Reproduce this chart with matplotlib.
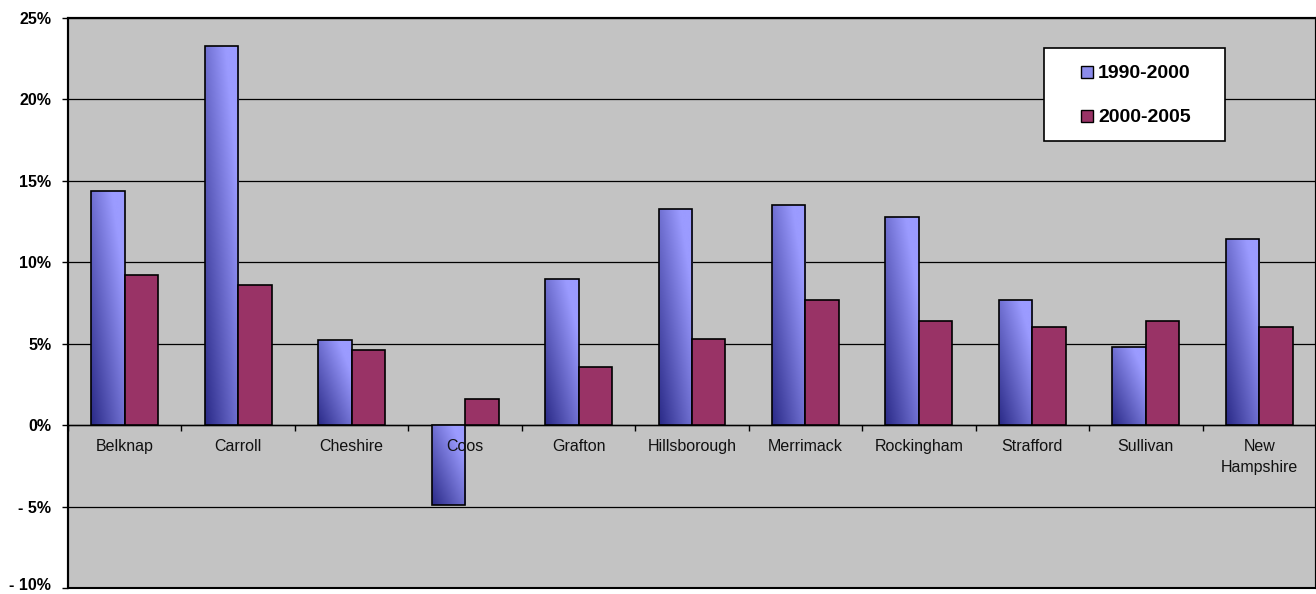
import numpy as np
import matplotlib
matplotlib.use("Agg")
import matplotlib.pyplot as plt
from matplotlib.patches import Rectangle
from matplotlib.transforms import offset_copy

# County population growth rates (%)
counties = ["Belknap", "Carroll", "Cheshire", "Coos", "Grafton", "Hillsborough",
            "Merrimack", "Rockingham", "Strafford", "Sullivan", "New\nHampshire"]
growth_1990_2000 = [14.4, 23.3, 5.2, -4.9, 9.0, 13.3, 13.5, 12.8, 7.7, 4.8, 11.4]
growth_2000_2005 = [9.2, 8.6, 4.6, 1.6, 3.6, 5.3, 7.7, 6.4, 6.0, 6.4, 6.0]
series_labels = ["1990-2000", "2000-2005"]
y_ticks = [-10, -5, 0, 5, 10, 15, 20, 25]
y_tick_labels = ["- 10%", "- 5%", "0%", "5%", "10%", "15%", "20%", "25%"]

plt.rcParams["font.family"] = ["Liberation Sans", "DejaVu Sans"]

W, H = 1316, 594
fig = plt.figure(figsize=(W / 100, H / 100), dpi=100)
ax = fig.add_axes([68 / W, 6 / H, 1 - 68 / W, (588 - 18) / H])
ax.set_facecolor("#C3C3C3")

n = len(counties)
x = np.arange(n)
bar_w = 0.295

ax.set_xlim(-0.5, n - 0.5)
ax.set_ylim(-10, 25)

# Horizontal gridlines
for yv in y_ticks:
    ax.axhline(yv, color="black", lw=0.9, zorder=1)

# Gradient fill for the first series: dark navy at bottom-left, periwinkle at top-right
dark = np.array([42, 42, 135]) / 255.0
light = np.array([155, 155, 255]) / 255.0
gx, gy = np.meshgrid(np.linspace(0, 1, 60), np.linspace(0, 1, 120))
t = np.clip(0.62 * gx + 0.62 * gy, 0, 1)
grad = dark[None, None, :] * (1 - t[..., None]) + light[None, None, :] * t[..., None]

for xi, v in zip(x, growth_1990_2000):
    x0 = xi - bar_w
    lo, hi = min(0, v), max(0, v)
    rect = Rectangle((x0, lo), bar_w, hi - lo, facecolor="none",
                     edgecolor="black", lw=1.2, zorder=4)
    ax.add_patch(rect)
    im = ax.imshow(grad, extent=(x0, x0 + bar_w, lo, hi), origin="lower",
                   aspect="auto", zorder=3, interpolation="bilinear")
    im.set_clip_path(rect)

ax.bar(x + bar_w / 2, growth_2000_2005, width=bar_w, color="#993366",
       edgecolor="black", lw=1.2, zorder=4)

# Category axis drawn along the zero line
ax.spines["bottom"].set_position(("data", 0))
ax.spines["bottom"].set_linewidth(1.0)
ax.set_xticks(np.arange(n + 1) - 0.5)
ax.set_xticklabels([])
ax.tick_params(axis="x", direction="out", length=4, width=1, color="black")
for xi, name in zip(x, counties):
    ax.annotate(name, (xi, 0), xytext=(0, -10), textcoords="offset points",
                ha="center", va="top", fontsize=11.5, color="#111111",
                linespacing=1.5, zorder=6)

ax.set_yticks(y_ticks)
ax.set_yticklabels(y_tick_labels, fontsize=11.5, fontweight="bold")
ax.tick_params(axis="y", direction="out", length=4, width=1, pad=8)
# Lift the lowest tick label so it stays inside the figure
low_label = ax.get_yticklabels()[0]
low_label.set_transform(offset_copy(low_label.get_transform(), fig=fig, x=0, y=4, units="dots"))

for side in ["top", "left", "right"]:
    ax.spines[side].set_linewidth(1.5)
ax.add_patch(Rectangle((0, 0), 1, 1, transform=ax.transAxes, fill=False,
                       edgecolor="black", lw=1.5, clip_on=False, zorder=7))

# Legend box drawn in figure pixel coordinates (origin top-left)
def fx(px):
    return px / W

def fy(py):
    return 1 - py / H

fig.patches.append(Rectangle((fx(1044), fy(141)), fx(1225) - fx(1044), fy(48) - fy(141),
                             transform=fig.transFigure, facecolor="white",
                             edgecolor="black", lw=1.2, zorder=8))
legend_colors = ["#8C8CEB", "#993366"]
for i, (lab, col) in enumerate(zip(series_labels, legend_colors)):
    cy = 72 + 44 * i
    fig.patches.append(Rectangle((fx(1081), fy(cy + 6)), fx(12), 12 / H,
                                 transform=fig.transFigure, facecolor=col,
                                 edgecolor="black", lw=1.0, zorder=9))
    fig.text(fx(1098), fy(cy), lab, ha="left", va="center_baseline",
             fontsize=14, fontweight="bold", zorder=9)

fig.savefig("out.png", dpi=100, facecolor="white")
